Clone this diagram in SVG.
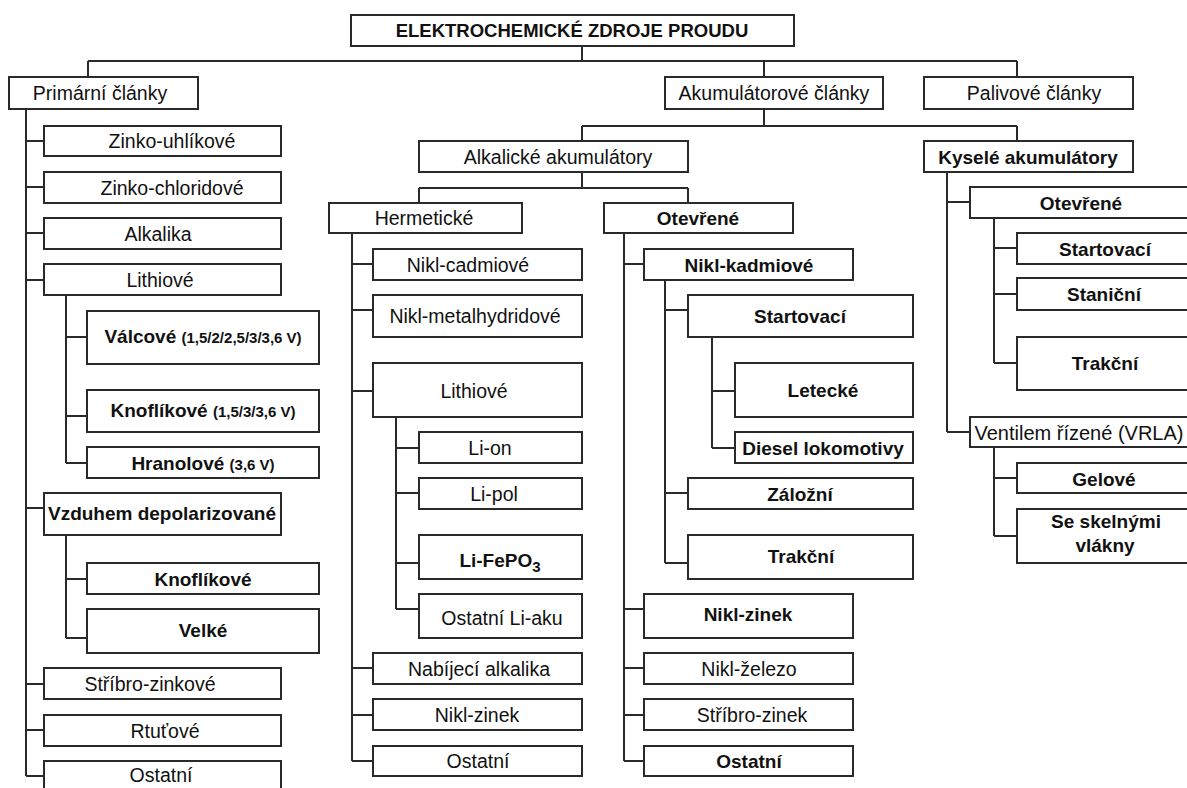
<svg xmlns="http://www.w3.org/2000/svg" width="1187" height="788" viewBox="0 0 1187 788">
<style>
.bg{fill:#fff}
.box{fill:#fff;stroke:#2a2a2a;stroke-width:2}
.c{fill:none;stroke:#2a2a2a;stroke-width:2}
text{font-family:"Liberation Sans",Arial,sans-serif;font-size:19.5px;fill:#111;text-anchor:middle}
.b{font-weight:bold;font-size:19px}
.s{font-size:15px}
</style>
<rect class="bg" x="0" y="0" width="1187" height="788"/>
<g id="connectors">
<path class="c" d="M582,46V61M88,61H1017M88,61V77M764,61V77M1017,61V77"/>
<path class="c" d="M764,109V126M582,126H1017M582,126V141M1017,126V141"/>
<path class="c" d="M582,172V188M419,188H688M419,188V203M688,188V203"/>
<path class="c" d="M26,109V776M26,141H44M26,187H44M26,233H44M26,280H44M26,508H44M26,684H44M26,730H44M26,776H44"/>
<path class="c" d="M66,295V463M66,337H87M66,416H87M66,463H87"/>
<path class="c" d="M66,535V638M66,579H87M66,638H87"/>
<path class="c" d="M352,233V761M352,264H373M352,310H373M352,391H373M352,668H373M352,715H373M352,761H373"/>
<path class="c" d="M396,417V609M396,448H419M396,493H419M396,563H419M396,609H419"/>
<path class="c" d="M624,233V761M624,264H644M624,609H644M624,668H644M624,715H644M624,761H644"/>
<path class="c" d="M665,280V563M665,310H688M665,493H688M665,563H688"/>
<path class="c" d="M712,337V448M712,391H735M712,448H735"/>
<path class="c" d="M947,172V432M947,202H970M947,432H970"/>
<path class="c" d="M994,218V363M994,248H1017M994,294H1017M994,363H1017"/>
<path class="c" d="M994,447V536M994,478H1017M994,536H1017"/>
</g>
<g id="root"><rect class="box" x="351" y="15" width="443" height="31"/><text class="b" x="572" y="37" style="font-size:18.5px">ELEKTROCHEMICKÉ ZDROJE PROUDU</text></g>
<g id="primarni"><rect class="box" x="9" y="77" width="189" height="32"/><text x="100" y="100">Primární články</text></g>
<g id="akumulatorove"><rect class="box" x="665" y="77" width="218" height="32"/><text x="774" y="100">Akumulátorové články</text></g>
<g id="palivove"><rect class="box" x="924" y="77" width="209" height="32"/><text x="1034" y="100">Palivové články</text></g>
<g id="alkalicke"><rect class="box" x="419" y="141" width="269" height="31"/><text x="558" y="164">Alkalické akumulátory</text></g>
<g id="kysele"><rect class="box" x="924" y="141" width="209" height="31"/><text class="b" x="1028" y="164">Kyselé akumulátory</text></g>
<g id="hermeticke"><rect class="box" x="329" y="203" width="193" height="30"/><text x="424" y="225">Hermetické</text></g>
<g id="otevrene-alk"><rect class="box" x="604" y="203" width="189" height="30"/><text class="b" x="698" y="225">Otevřené</text></g>
<g id="otevrene-kys"><rect class="box" x="970" y="187" width="225" height="31"/><text class="b" x="1081" y="210">Otevřené</text></g>

<g id="zinko-uhlikove"><rect class="box" x="44" y="126" width="237" height="30"/><text x="172" y="148">Zinko-uhlíkové</text></g>
<g id="zinko-chloridove"><rect class="box" x="44" y="172" width="237" height="31"/><text x="172" y="195">Zinko-chloridové</text></g>
<g id="alkalika"><rect class="box" x="44" y="218" width="237" height="31"/><text x="158" y="241">Alkalika</text></g>
<g id="lithiove-prim"><rect class="box" x="44" y="264" width="237" height="31"/><text x="160" y="287">Lithiové</text></g>
<g id="valcove"><rect class="box" x="87" y="311" width="232" height="53"/><text class="b" x="203" y="343">Válcové <tspan class="s">(1,5/2/2,5/3/3,6 V)</tspan></text></g>
<g id="knoflikove-li"><rect class="box" x="87" y="390" width="232" height="42"/><text class="b" x="203" y="417">Knoflíkové <tspan class="s">(1,5/3/3,6 V)</tspan></text></g>
<g id="hranolove"><rect class="box" x="87" y="447" width="232" height="31"/><text class="b" x="203" y="470">Hranolové <tspan class="s">(3,6 V)</tspan></text></g>
<g id="vzduhem"><rect class="box" x="44" y="493" width="237" height="42"/><text class="b" x="162" y="520">Vzduhem depolarizované</text></g>
<g id="knoflikove-vzd"><rect class="box" x="87" y="563" width="232" height="31"/><text class="b" x="203" y="586">Knoflíkové</text></g>
<g id="velke"><rect class="box" x="87" y="609" width="232" height="44"/><text class="b" x="203" y="637">Velké</text></g>
<g id="stribro-zinkove"><rect class="box" x="44" y="668" width="237" height="31"/><text x="150" y="691">Stříbro-zinkové</text></g>
<g id="rtutove"><rect class="box" x="44" y="715" width="237" height="31"/><text x="165" y="738">Rtuťové</text></g>
<g id="ostatni-prim"><rect class="box" x="44" y="761" width="237" height="40"/><text x="161" y="782">Ostatní</text></g>

<g id="nikl-cadmiove"><rect class="box" x="373" y="249" width="209" height="31"/><text x="468" y="272">Nikl-cadmiové</text></g>
<g id="nikl-metalhydridove"><rect class="box" x="373" y="295" width="209" height="42"/><text x="475" y="323">Nikl-metalhydridové</text></g>
<g id="lithiove-herm"><rect class="box" x="373" y="363" width="209" height="54"/><text x="474" y="398">Lithiové</text></g>
<g id="li-on"><rect class="box" x="419" y="432" width="163" height="31"/><text x="490" y="455">Li-on</text></g>
<g id="li-pol"><rect class="box" x="419" y="478" width="163" height="31"/><text x="494" y="501">Li-pol</text></g>
<g id="li-fepo3"><rect class="box" x="419" y="535" width="163" height="44"/><text class="b" x="500" y="567">Li-FePO<tspan class="s" dy="5">3</tspan></text></g>
<g id="ostatni-li-aku"><rect class="box" x="419" y="594" width="163" height="44"/><text x="502" y="625">Ostatní Li-aku</text></g>
<g id="nabijeci-alkalika"><rect class="box" x="373" y="653" width="209" height="31"/><text x="479" y="676">Nabíjecí alkalika</text></g>
<g id="nikl-zinek-herm"><rect class="box" x="373" y="699" width="209" height="31"/><text x="477" y="722">Nikl-zinek</text></g>
<g id="ostatni-herm"><rect class="box" x="373" y="746" width="209" height="30"/><text x="478" y="768">Ostatní</text></g>

<g id="nikl-kadmiove"><rect class="box" x="644" y="249" width="209" height="31"/><text class="b" x="749" y="272">Nikl-kadmiové</text></g>
<g id="startovaci-alk"><rect class="box" x="688" y="295" width="225" height="42"/><text class="b" x="800" y="323">Startovací</text></g>
<g id="letecke"><rect class="box" x="735" y="363" width="178" height="54"/><text class="b" x="823" y="397">Letecké</text></g>
<g id="diesel"><rect class="box" x="735" y="432" width="178" height="31"/><text class="b" x="823" y="455">Diesel lokomotivy</text></g>
<g id="zalozni"><rect class="box" x="688" y="478" width="225" height="31"/><text class="b" x="800" y="501">Záložní</text></g>
<g id="trakcni-alk"><rect class="box" x="688" y="535" width="225" height="44"/><text class="b" x="801" y="563">Trakční</text></g>
<g id="nikl-zinek-otv"><rect class="box" x="644" y="594" width="209" height="44"/><text class="b" x="748" y="621">Nikl-zinek</text></g>
<g id="nikl-zelezo"><rect class="box" x="644" y="653" width="209" height="31"/><text x="749" y="676">Nikl-železo</text></g>
<g id="stribro-zinek"><rect class="box" x="644" y="699" width="209" height="31"/><text x="752" y="722">Stříbro-zinek</text></g>
<g id="ostatni-otv"><rect class="box" x="644" y="746" width="209" height="30"/><text class="b" x="749" y="768">Ostatní</text></g>

<g id="startovaci-kys"><rect class="box" x="1017" y="233" width="180" height="31"/><text class="b" x="1105" y="256">Startovací</text></g>
<g id="stanicni"><rect class="box" x="1017" y="278" width="180" height="32"/><text class="b" x="1104" y="301">Staniční</text></g>
<g id="trakcni-kys"><rect class="box" x="1017" y="337" width="180" height="53"/><text class="b" x="1105" y="370">Trakční</text></g>
<g id="vrla"><rect class="box" x="970" y="417" width="225" height="30"/><text x="1079" y="440" style="font-size:20px">Ventilem řízené (VRLA)</text></g>
<g id="gelove"><rect class="box" x="1017" y="463" width="180" height="30"/><text class="b" x="1104" y="486">Gelové</text></g>
<g id="skelne"><rect class="box" x="1017" y="509" width="180" height="54"/><text class="b" x="1106" y="528">Se skelnými</text><text class="b" x="1105" y="552">vlákny</text></g>
</svg>
